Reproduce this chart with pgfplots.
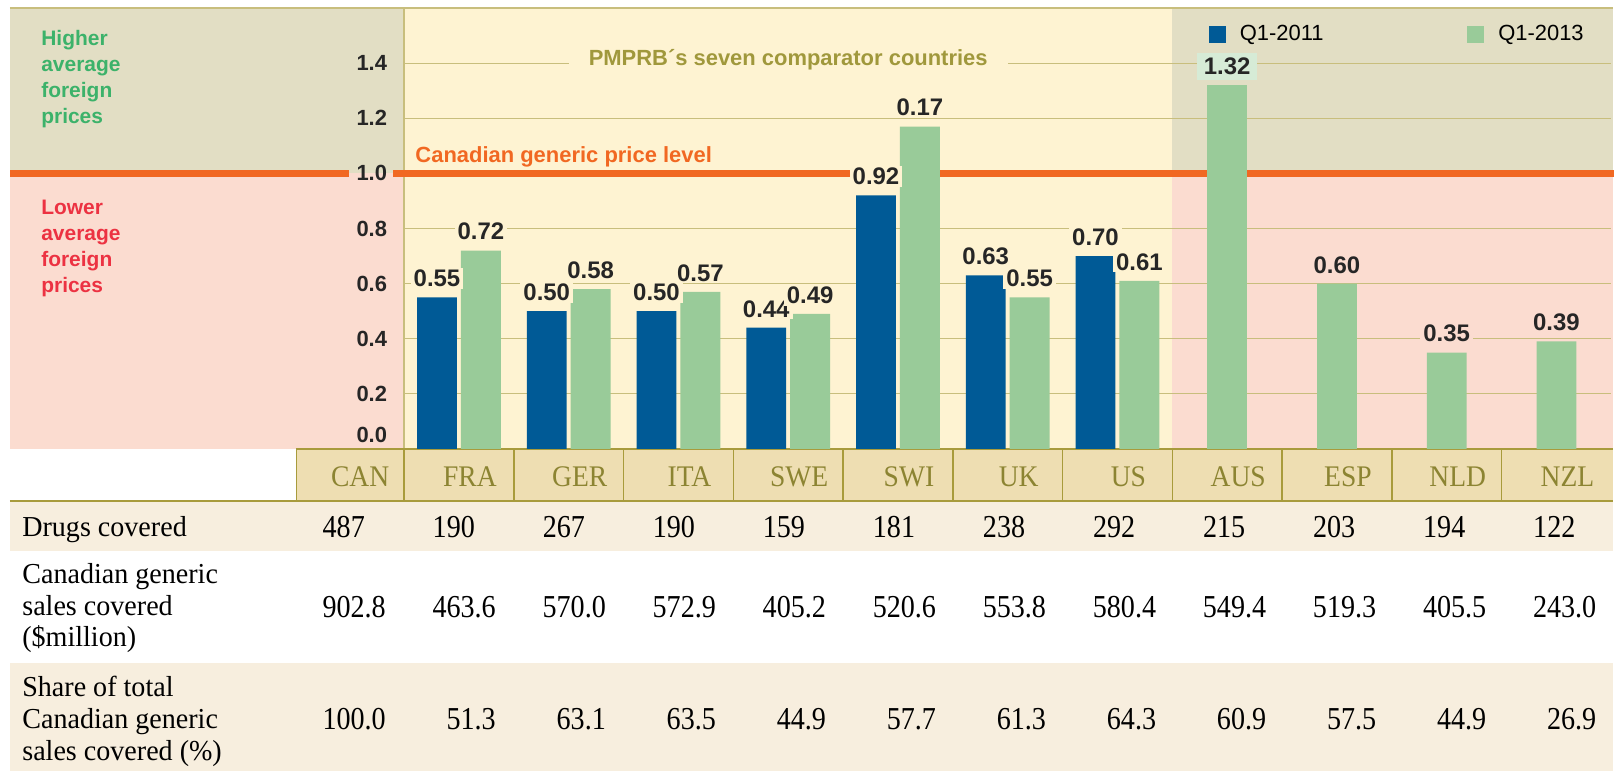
\documentclass[border=0pt]{standalone}
\usepackage{pgfplots}
\pgfplotsset{compat=1.18}
\usepackage{pgfplotstable}
\usepackage{fontspec}
\setmainfont{Liberation Sans}
\newfontfamily\tabfont[FakeStretch=0.97]{Liberation Serif}
\newfontfamily\numfont[FakeStretch=0.88]{Liberation Serif}
\newfontfamily\headfont[FakeStretch=0.92]{Liberation Serif}

\definecolor{barblue}{RGB}{0,90,150}
\definecolor{bargreen}{RGB}{153,203,153}
\definecolor{bgyellow}{RGB}{254,243,210}
\definecolor{bggray}{RGB}{226,222,196}
\definecolor{bgpink}{RGB}{251,220,208}
\definecolor{orangeline}{RGB}{241,104,34}
\definecolor{gridtan}{RGB}{200,190,125}
\definecolor{headfill}{RGB}{238,222,178}
\definecolor{headline}{RGB}{168,155,60}
\definecolor{headtext}{RGB}{140,132,50}
\definecolor{rowfill}{RGB}{247,238,222}
\definecolor{greentext}{RGB}{60,178,106}
\definecolor{redtext}{RGB}{236,50,66}
\definecolor{olivetext}{RGB}{160,152,60}
\definecolor{labelgreen}{RGB}{214,235,214}

\pgfplotstableread{
x  q11  q13  l11  l13
1  0.55 0.72 0.55 0.72
2  0.50 0.58 0.50 0.58
3  0.50 0.57 0.50 0.57
4  0.44 0.49 0.44 0.49
5  0.92 1.17 0.92 0.17
6  0.63 0.55 0.63 0.55
7  0.70 0.61 0.70 0.61
}\comp
\pgfplotstableread{
x q13 l13
8 1.32 1.32
}\aus
\pgfplotstableread{
x  q13  l13
9  0.60 0.60
10 0.35 0.35
11 0.39 0.39
}\others

\begin{document}
\begin{tikzpicture}
\begin{scope}[x=0.5pt,y=-0.5pt]
\path (0,0) rectangle (1617,773);
% chart backgrounds
\fill[bggray] (10,8) rectangle (405,173.75);
\fill[bgpink] (10,173.75) rectangle (405,450);
\fill[bgyellow] (405,8) rectangle (1175,450);
\fill[bggray] (1175,8) rectangle (1617,173.75);
\fill[bgpink] (1175,173.75) rectangle (1617,450);
\draw[gridtan, line width=0.6pt] (10,8) -- (1617,8);
\draw[gridtan, line width=0.6pt] (405,8) -- (405,450);
% table backgrounds
\fill[rowfill] (10,501) rectangle (1617,552);
\fill[rowfill] (10,664) rectangle (1617,773);
\fill[headfill] (297,450) rectangle (1617,502);
\draw[headline, line width=0.7pt] (297,450) -- (1617,450);
\draw[headline, line width=1.3pt] (10,502) -- (1617,502);
\draw[headline, line width=0.7pt] (297,450) -- (297,502);
\foreach \k in {0,...,10} \draw[headline, line width=0.7pt] (405+110*\k,450) -- (405+110*\k,502);
\foreach \c [count=\i from 0] in {CAN,FRA,GER,ITA,SWE,SWI,UK,US,AUS,ESP,NLD,NZL}
  \node[text=headtext, anchor=base, inner sep=0] at (361+110*\i,488) {\headfont\fontsize{15}{16}\selectfont\c};
% side labels
\foreach \t [count=\i from 0] in {Higher,average,foreign,prices}
  \node[text=greentext, anchor=base west, inner sep=0, font=\bfseries\fontsize{10.5}{12}\selectfont] at (41,46+26*\i) {\t};
\foreach \t [count=\i from 0] in {Lower,average,foreign,prices}
  \node[text=redtext, anchor=base west, inner sep=0, font=\bfseries\fontsize{10.5}{12}\selectfont] at (41,215+26*\i) {\t};
% table row labels
\node[anchor=base west, inner sep=0, font=\tabfont\fontsize{14.5}{15}\selectfont] at (22,538) {Drugs covered};
\foreach \t [count=\i from 0] in {Canadian generic,sales covered,(\$million)}
  \node[anchor=base west, inner sep=0, font=\tabfont\fontsize{14.5}{15}\selectfont] at (22,585+31.5*\i) {\t};
\foreach \t [count=\i from 0] in {Share of total,Canadian generic,sales covered (\%)}
  \node[anchor=base west, inner sep=0, font=\tabfont\fontsize{14.5}{15}\selectfont] at (22,698+32*\i) {\t};
% table values
\foreach \v [count=\i from 0] in {487,190,267,190,159,181,238,292,215,203,194,122}
  \node[anchor=base west, inner sep=0, font=\numfont\fontsize{16}{17}\selectfont] at (323+110.3*\i,539) {\v};
\foreach \v [count=\i from 0] in {902.8,463.6,570.0,572.9,405.2,520.6,553.8,580.4,549.4,519.3,405.5,243.0}
  \node[anchor=base east, inner sep=0, font=\numfont\fontsize{16}{17}\selectfont] at (387+110.3*\i,619) {\v};
\foreach \v [count=\i from 0] in {100.0,51.3,63.1,63.5,44.9,57.7,61.3,64.3,60.9,57.5,44.9,26.9}
  \node[anchor=base east, inner sep=0, font=\numfont\fontsize{16}{17}\selectfont] at (387+110.3*\i,731) {\v};
\end{scope}

\begin{axis}[
  at={(202.5pt,-4pt)}, anchor=north west,
  scale only axis, width=605pt, height=221pt,
  xmin=0.5, xmax=11.5, ymin=0, ymax=1.6,
  clip=false,
  axis line style={draw=none},
  xtick=\empty,
  ytick={0.2,0.4,0.6,0.8,1.0,1.2,1.4},
  extra y ticks={0},
  extra y tick style={ymajorgrids=false, yticklabel style={yshift=7pt}},
  ymajorgrids,
  grid style={gridtan, line width=0.6pt},
  major tick length=0pt,
  /pgf/number format/assume math mode=true,
  yticklabel style={font=\bfseries\fontsize{11}{13}\selectfont, xshift=-5pt, text=black!85,
    /pgf/number format/fixed, /pgf/number format/fixed zerofill, /pgf/number format/precision=1},
  ybar, bar width=20pt,
  nodes near coords, point meta=explicit symbolic,
  every node near coord/.append style={font=\bfseries\fontsize{12}{14}\selectfont, text=black!85,
    fill=bgyellow, inner xsep=1.5pt, inner ysep=1pt, anchor=south, yshift=4pt},
  legend columns=2,
  legend image code/.code={\fill[#1] (0pt,-4.25pt) rectangle (8.5pt,4.25pt);},
  legend style={at={(axis cs:7.83,1.505)}, anchor=west, draw=none, fill=none, inner sep=0pt,
    font=\fontsize{11}{13}\selectfont,
    /tikz/every odd column/.append style={column sep=5pt},
    /tikz/every even column/.append style={column sep=70pt}},
]
\draw[orangeline, line width=3.5pt] (axis cs:-3.09,1) -- (axis cs:0.0,1);
\draw[orangeline, line width=3.5pt] (axis cs:0.4,1) -- (axis cs:11.52,1);
\node[text=olivetext, fill=bgyellow, inner xsep=10pt, inner ysep=1pt, font=\bfseries\fontsize{11}{13}\selectfont]
  at (axis cs:4.0,1.4) [yshift=1.5pt] {PMPRB´s seven comparator countries};
\node[text=orangeline, anchor=base west, inner sep=0, font=\bfseries\fontsize{11}{13}\selectfont]
  at (axis cs:0.6,1.0) [yshift=5.3pt] {Canadian generic price level};

\addplot[fill=barblue, draw=none, bar shift=-11pt] table[x=x, y=q11, meta=l11] {\comp};
\addlegendentry{Q1-2011}
\addplot[fill=bargreen, draw=none, bar shift=11pt] table[x=x, y=q13, meta=l13] {\comp};
\addlegendentry{Q1-2013}
\addplot[fill=bargreen, draw=none, bar shift=0pt, forget plot,
  every node near coord/.append style={fill=labelgreen, inner xsep=3.5pt, inner ysep=2.5pt, yshift=-1.5pt}]
  table[x=x, y=q13, meta=l13] {\aus};
\addplot[fill=bargreen, draw=none, bar shift=0pt, forget plot,
  every node near coord/.append style={fill=bgpink}]
  table[x=x, y=q13, meta=l13] {\others};
\end{axis}
\end{tikzpicture}
\end{document}
